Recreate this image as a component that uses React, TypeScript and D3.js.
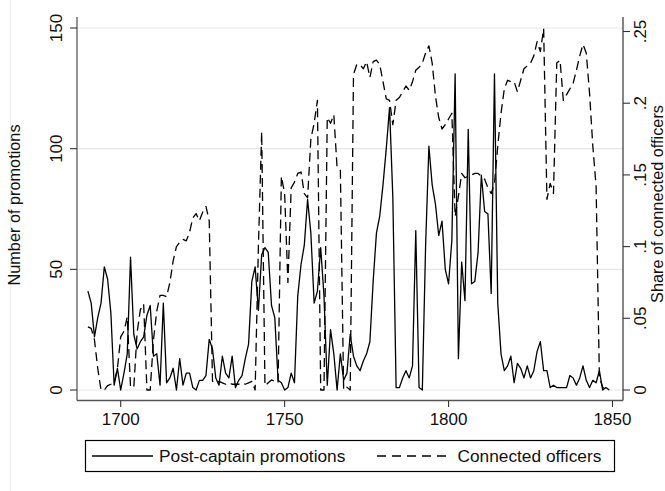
import React from "react";
import * as d3 from "d3";

const firstYear = 1690;
const xTicks = [1700, 1750, 1800, 1850];
const leftTicks = [0, 50, 100, 150];
const rightTicks = [0, 0.05, 0.1, 0.15, 0.2, 0.25];
const rightTickLabels = ["0", ".05", ".1", ".15", ".2", ".25"];
const seriesNames = ["Post-captain promotions", "Connected officers"];

// Post-captain promotions, 1690..1849
const promotions = [
  41, 36, 22, 30, 36, 51, 46, 32, 2, 9,
  0, 7, 15, 55, 23, 17, 20, 22, 31, 35,
  14, 15, 2, 36, 3, 5, 9, 0, 13, 2,
  7, 7, 1, 0, 4, 4, 6, 21, 17, 5,
  2, 14, 7, 5, 14, 1, 4, 6, 13, 19,
  45, 51, 33, 56, 59, 57, 35, 30, 4, 3,
  0, 1, 7, 3, 39, 52, 60, 79, 65, 36,
  41, 59, 39, 2, 25, 15, 0, 15, 4, 7,
  23, 14, 10, 8, 12, 15, 20, 45, 65, 72,
  85, 100, 117, 80, 1, 1, 5, 8, 5, 10,
  66, 1, 0, 60, 101, 85, 77, 64, 70, 50,
  44, 62, 131, 13, 53, 37, 108, 44, 45, 57,
  89, 74, 73, 40, 131, 36, 15, 8, 10, 14,
  3, 11, 9, 5, 10, 5, 8, 16, 20, 8,
  8, 1, 2, 1, 1, 1, 1, 6, 5, 2,
  5, 10, 4, 1, 4, 3, 8, 0, 1, 0,
];

// Share of connected officers, 1690..1849
const connected = [
  0.044, 0.043, 0.035, 0.015, 0, 0, 0.003, 0.004, 0.005, 0.015,
  0.037, 0.041, 0.051, 0.002, 0.002, 0.04, 0.056, 0.06, 0, 0,
  0.035, 0.055, 0.066, 0.066, 0.065, 0.075, 0.09, 0.1, 0.103, 0.105,
  0.104, 0.11, 0.12, 0.123, 0.118, 0.124, 0.128, 0.118, 0.006, 0.005,
  0.006, 0.005, 0.004, 0.005, 0.004, 0.004, 0.004, 0.005, 0.004, 0.005,
  0.006, 0, 0.1, 0.18, 0.003, 0.005, 0.007, 0.006, 0.005, 0.149,
  0.137, 0.075, 0.141, 0.145, 0.151, 0.152, 0.137, 0.134, 0.175, 0.186,
  0.202, 0, 0, 0.19, 0.186, 0.192, 0.155, 0.153, 0, 0.002,
  0, 0.22, 0.227, 0.227, 0.224, 0.229, 0.218, 0.229, 0.23, 0.227,
  0.215, 0.203, 0.202, 0.185, 0.202, 0.204, 0.208, 0.212, 0.209, 0.215,
  0.223, 0.225, 0.228, 0.235, 0.24, 0.228, 0.205, 0.19, 0.182, 0.185,
  0.189, 0.193, 0.121, 0.135, 0.151, 0.148, 0.149, 0.15, 0.151, 0.151,
  0.149, 0.147, 0.141, 0.137, 0.144, 0.17, 0.193, 0.21, 0.216, 0.215,
  0.215, 0.208, 0.216, 0.224, 0.226, 0.228, 0.233, 0.243, 0.236, 0.252,
  0.133, 0.144, 0.137, 0.228, 0.23, 0.202, 0.206, 0.21, 0.214, 0.223,
  0.233, 0.241, 0.235, 0.207, 0.17, 0.142, 0.009, 0.002, 0, 0,
];

const FONT = "'Liberation Sans', Arial, Helvetica, sans-serif";

export default function App() {
  const W = 665;
  const H = 491;
  const plotLeft = 77;
  const plotRight = 623;
  const plotTop = 17;
  const plotBottom = 400.5;

  const x = d3.scaleLinear().domain([1700, 1850]).range([120.7, 612.5]);
  const yL = d3.scaleLinear().domain([0, 150]).range([390, 28]);
  const yR = d3.scaleLinear().domain([0, 0.25]).range([390, 31.5]);

  const lineL = d3
    .line<number>()
    .x((_, i) => x(firstYear + i))
    .y((d) => yL(d));
  const lineR = d3
    .line<number>()
    .x((_, i) => x(firstYear + i))
    .y((d) => yR(d));

  const legY = 456;

  return (
    <svg
      width={W}
      height={H}
      viewBox={`0 0 ${W} ${H}`}
      style={{ position: "absolute", left: 0, top: 0, background: "#fff" }}
      fontFamily={FONT}
    >
      <rect x={0} y={0} width={W} height={H} fill="#fff" />
      <line x1={10.5} x2={10.5} y1={0} y2={H} stroke="#eeeeee" strokeWidth={1} />

      {/* gridlines */}
      {leftTicks.map((t) => (
        <line
          key={"g" + t}
          x1={plotLeft}
          x2={plotRight}
          y1={yL(t)}
          y2={yL(t)}
          stroke="#e6e6e6"
          strokeWidth={1.2}
        />
      ))}

      {/* series */}
      <path d={lineL(promotions) || ""} fill="none" stroke="#000" strokeWidth={1.3} strokeLinejoin="round" />
      <path
        d={lineR(connected) || ""}
        fill="none"
        stroke="#000"
        strokeWidth={1.3}
        strokeDasharray="9 5"
        strokeLinejoin="round"
      />

      {/* left axis */}
      <line x1={plotLeft} x2={plotLeft} y1={plotTop} y2={plotBottom} stroke="#7a7a7a" strokeWidth={1.6} />
      {leftTicks.map((t) => (
        <g key={"l" + t}>
          <line x1={plotLeft - 7} x2={plotLeft} y1={yL(t)} y2={yL(t)} stroke="#333" strokeWidth={1.1} />
          <text
            transform={`translate(${62},${yL(t)}) rotate(-90)`}
            textAnchor="middle"
            fontSize={17}
            fill="#111"
          >
            {t}
          </text>
        </g>
      ))}
      <text
        transform={`translate(${20},${205}) rotate(-90)`}
        textAnchor="middle"
        fontSize={16.3}
        fill="#111"
      >
        Number of promotions
      </text>

      {/* right axis */}
      <line x1={plotRight} x2={plotRight} y1={plotTop} y2={plotBottom} stroke="#333" strokeWidth={1.2} />
      {rightTicks.map((t, i) => (
        <g key={"r" + t}>
          <line x1={plotRight} x2={plotRight + 7} y1={yR(t)} y2={yR(t)} stroke="#333" strokeWidth={1.1} />
          <text
            transform={`translate(${646},${yR(t)}) rotate(-90)`}
            textAnchor="middle"
            fontSize={17}
            fill="#111"
          >
            {rightTickLabels[i]}
          </text>
        </g>
      ))}
      <text
        transform={`translate(${663},${204}) rotate(-90)`}
        textAnchor="middle"
        fontSize={16.3}
        fill="#111"
      >
        Share of connected officers
      </text>

      {/* bottom axis */}
      <line x1={plotLeft} x2={plotRight} y1={plotBottom} y2={plotBottom} stroke="#555" strokeWidth={1.4} />
      {xTicks.map((t) => (
        <g key={"x" + t}>
          <line x1={x(t)} x2={x(t)} y1={plotBottom} y2={plotBottom + 6.5} stroke="#333" strokeWidth={1.1} />
          <text x={x(t)} y={424.5} textAnchor="middle" fontSize={17} fill="#111">
            {t}
          </text>
        </g>
      ))}

      {/* legend */}
      <rect x={85.5} y={440.5} width={529} height={31} fill="#fff" stroke="#000" strokeWidth={1.2} />
      <line x1={92} x2={153} y1={legY} y2={legY} stroke="#000" strokeWidth={1.3} />
      <text x={159} y={legY + 6} fontSize={17.3} fill="#111">
        {seriesNames[0]}
      </text>
      <line x1={377} x2={449} y1={legY} y2={legY} stroke="#000" strokeWidth={1.3} strokeDasharray="9 6" />
      <text x={457.5} y={legY + 6} fontSize={17.3} fill="#111">
        {seriesNames[1]}
      </text>
    </svg>
  );
}
